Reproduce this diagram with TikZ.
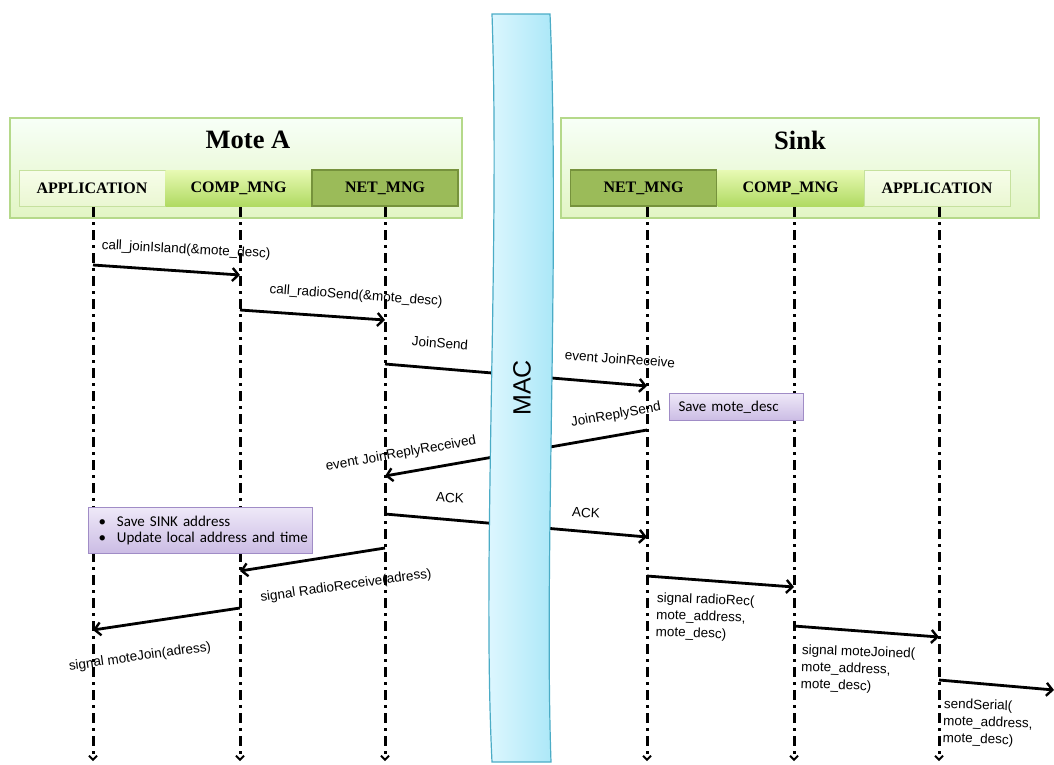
\documentclass[tikz,border=0pt]{standalone}
\usepackage{fontspec}
\setmainfont{Liberation Serif}
\setsansfont{Liberation Sans}
\newfontfamily\calib{Carlito}
\usetikzlibrary{arrows.meta}
\definecolor{boxbd}{HTML}{B5D98A}
\definecolor{netfill}{HTML}{9BBB59}
\definecolor{netbd}{HTML}{76923C}
\definecolor{macbd}{HTML}{4BACC6}
\definecolor{purbd}{HTML}{A08CC6}
\tikzset{
  x=1pt,y=-1pt,
  group/.style={draw=boxbd,line width=1.2pt,top color=green!3!white,bottom color={rgb,255:red,226;green,245;blue,196}},
  grouptitle/.style={font=\fontsize{26.5}{30}\selectfont\bfseries},
  appbox/.style={draw={rgb,255:red,198;green,225;blue,158},line width=1pt,top color={rgb,255:red,247;green,253;blue,234},bottom color={rgb,255:red,234;green,247;blue,210},minimum height=36pt,minimum width=146pt,inner sep=0pt,font=\fontsize{16}{18}\selectfont\bfseries},
  compbox/.style={appbox,draw=none,top color={rgb,255:red,232;green,250;blue,180},bottom color={rgb,255:red,176;green,218;blue,98}},
  netbox/.style={appbox,draw=netbd,line width=1.4pt,fill=netfill,top color=netfill,bottom color=netfill},
  life/.style={line width=3pt,dash pattern=on 10pt off 5pt on 3pt off 5pt,-{Straight Barb[length=4pt,width=8pt,line width=1.8pt]}},
  msg/.style={line width=2.8pt,-{Straight Barb[length=6pt,width=13pt,line width=2.4pt]}},
  lbl/.style={font=\sffamily\fontsize{13.5}{16}\selectfont,inner sep=1pt},
  mlbl/.style={lbl,align=left,anchor=north west,font=\sffamily\fontsize{13.5}{17}\selectfont},
  note/.style={draw=purbd,line width=1pt,top color={rgb,255:red,238;green,232;blue,248},bottom color={rgb,255:red,203;green,188;blue,228},font=\calib\fontsize{15}{17}\selectfont,inner sep=0pt,anchor=north west,align=left}
}
\begin{document}
\begin{tikzpicture}
\useasboundingbox (0,0) rectangle (1054,764);
% groups
\path[group] (10,118) rectangle (462,218);
\node[grouptitle] (tA) at (248,140) {Mote A};
\path[group] (561,118) rectangle (1039,218);
\node[grouptitle] (tS) at (800,140) {Sink};
\node[appbox] (appA) at (92,188) {APPLICATION};
\node[compbox] (compA) at (238.5,188) {COMP\_MNG};
\node[netbox] (netA) at (385,188) {NET\_MNG};
\node[netbox] (netS) at (643.5,188) {NET\_MNG};
\node[compbox] (compS) at (790.5,188) {COMP\_MNG};
\node[appbox] (appS) at (937,188) {APPLICATION};
% lifelines
\foreach \n/\x in {LA/93,LB/240,LC/385,LD/647,LE/794,LF/939}{
  \coordinate (\n t) at (\x,207);
  \coordinate (\n b) at (\x,761);
  \draw[life] (\n t) -- (\n b);
}
% message points
\coordinate (a1) at (93,265);  \coordinate (b1) at (240,275);
\coordinate (a2) at (240,310); \coordinate (b2) at (385,320);
\coordinate (a3) at (385,364); \coordinate (b3) at (647,386);
\coordinate (a4) at (647,430); \coordinate (b4) at (385,476);
\coordinate (a5) at (385,514); \coordinate (b5) at (647,537);
\coordinate (a6) at (385,548); \coordinate (b6) at (240,571);
\coordinate (a7) at (240,608); \coordinate (b7) at (93,630);
\coordinate (a8) at (647,576); \coordinate (b8) at (794,587);
\coordinate (a9) at (794,626); \coordinate (b9) at (939,637);
\coordinate (a10) at (939,680); \coordinate (b10) at (1054,690);
\foreach \i in {1,...,10}{\draw[msg] (a\i) -- (b\i);}
% MAC
\path[draw=macbd,line width=1.2pt,left color={rgb,255:red,226;green,248;blue,255},right color={rgb,255:red,166;green,230;blue,247}]
  (492,14) .. controls (500,250) and (482,560) .. (492,762) -- (551,762)
  .. controls (544,560) and (560,250) .. (550,14) -- cycle;
\node[font=\sffamily\fontsize{25}{28}\selectfont,rotate=90] (mac) at (522,388) {MAC};
% labels
\node[lbl,rotate=-3] (l1) at (186,250) {call\_joinIsland(\&mote\_desc)};
\node[lbl,rotate=-4] (l2) at (356,296) {call\_radioSend(\&mote\_desc)};
\node[lbl,rotate=-4] (l3) at (440,343) {JoinSend};
\node[lbl,rotate=-4] (l4) at (620,359) {event JoinReceive};
\node[lbl,rotate=10] (l5) at (616,415) {JoinReplySend};
\node[lbl,rotate=10] (l6) at (401,454) {event JoinReplyReceived};
\node[lbl,rotate=-3] (l7) at (450,498) {ACK};
\node[lbl,rotate=-3] (l8) at (586,513) {ACK};
\node[lbl,rotate=8] (l9) at (346,586) {signal RadioReceive(adress)};
\node[lbl,rotate=8] (l10) at (140,657) {signal moteJoin(adress)};
\node[mlbl,rotate=-2] (l11) at (656,591) {signal radioRec(\\mote\_address,\\mote\_desc)};
\node[mlbl,rotate=-2] (l12) at (801,643) {signal moteJoined(\\mote\_address,\\mote\_desc)};
\node[mlbl,rotate=-2] (l13) at (943,697) {sendSerial(\\mote\_address,\\mote\_desc)};
% notes
\node[note,minimum height=27pt,text width=134pt] (n1) at (669,393) {\hspace*{9pt}Save mote\_desc};
\node[note,minimum height=46pt,text width=224pt] (n2) at (88,507)
  {\hspace*{10pt}\textbullet\hspace{11pt}Save SINK address\\[-1pt]\hspace*{10pt}\textbullet\hspace{11pt}Update local address and time};
\end{tikzpicture}
\end{document}
